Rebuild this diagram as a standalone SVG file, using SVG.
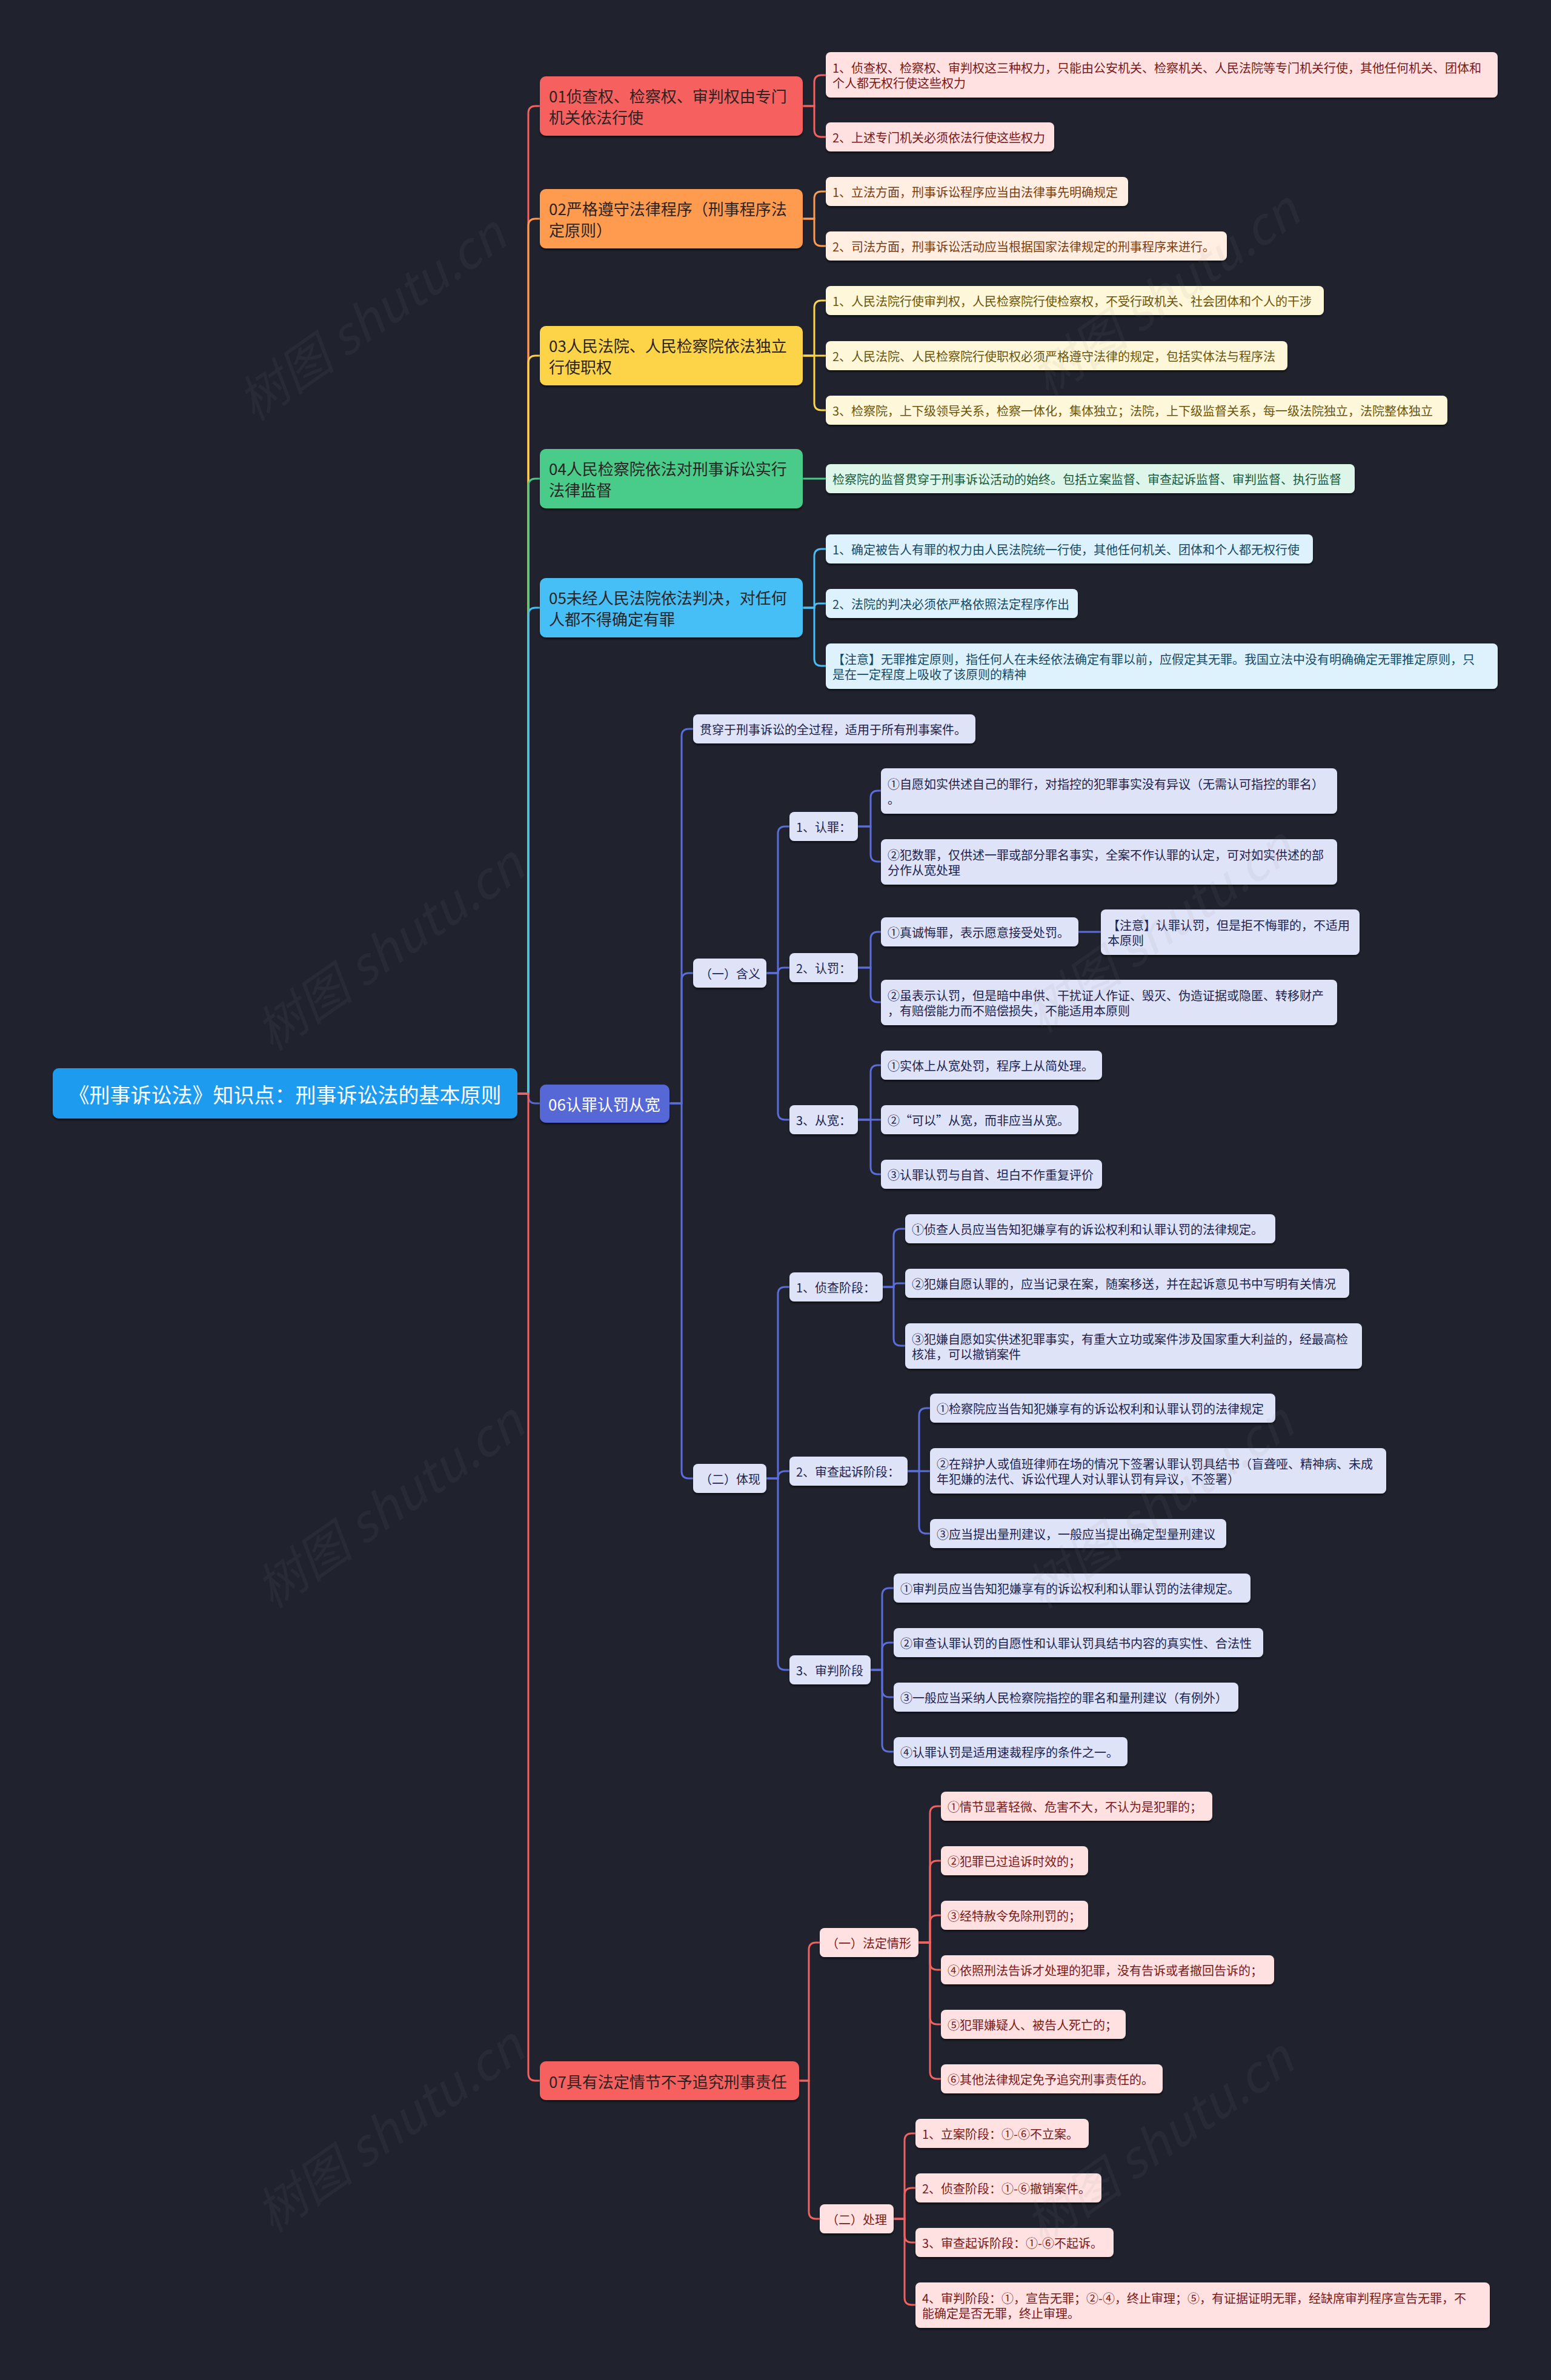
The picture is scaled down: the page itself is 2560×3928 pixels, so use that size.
<svg xmlns="http://www.w3.org/2000/svg" width="2560" height="3928" viewBox="0 0 2560 3928">
<defs>
<filter id="sh" x="-5%" y="-20%" width="110%" height="150%">
<feDropShadow dx="0" dy="3" stdDeviation="1.5" flood-color="#000" flood-opacity="0.5"/>
</filter>
<style>
text{font-family:"Noto Sans CJK SC","Noto Sans",sans-serif;dominant-baseline:central}
.ln{fill:none;stroke-width:3;stroke-linecap:round}
.nd{filter:url(#sh)}
.root rect{fill:#1c9bef}
.root text{fill:#fff;font-size:34px;text-anchor:middle}
.br text{font-size:26px;fill:#2b2424}
.lf text{font-size:20px}
.red rect{fill:#f6605f}
.ora rect{fill:#ff9b50}
.yel rect{fill:#fdd447}
.grn rect{fill:#4acc89}
.blu rect{fill:#45bff5}
.ind rect{fill:#5568d5}
.ind text{fill:#fff}
.lred rect{fill:#ffe1e1}.lred text{fill:#7a1a1a}
.lora rect{fill:#ffeee1}.lora text{fill:#7a3d12}
.lyel rect{fill:#fff7da}.lyel text{fill:#6a560c}
.lgrn rect{fill:#ddf6e9}.lgrn text{fill:#1b5a3a}
.lblu rect{fill:#ddf2fd}.lblu text{fill:#174a66}
.lind rect{fill:#dfe3f7}.lind text{fill:#1d2450}
.wm text{font-size:82px;fill:#8c8c8c;opacity:0.08;font-style:italic;text-anchor:middle}
</style>
</defs>
<rect x="0" y="0" width="2560" height="3928" fill="#20232e"/>

<g id="connectors">
<g class="ln" stroke="#f6605f"><path d="M854 1805 H872 V187 Q872 175 884 175 H891"/></g>
<g class="ln" stroke="#ff9b50"><path d="M854 1805 H872 V373 Q872 361 884 361 H891"/></g>
<g class="ln" stroke="#fdd447"><path d="M854 1805 H872 V599 Q872 587 884 587 H891"/></g>
<g class="ln" stroke="#4acc89"><path d="M854 1805 H872 V802 Q872 790 884 790 H891"/></g>
<g class="ln" stroke="#45bff5"><path d="M854 1805 H872 V1015 Q872 1003 884 1003 H891"/></g>
<g class="ln" stroke="#5568d5"><path d="M854 1805 H872 V1809 Q872 1821 884 1821 H891"/></g>
<g class="ln" stroke="#f6605f"><path d="M854 1805 H872 V3422 Q872 3434 884 3434 H891"/></g>

<g class="ln" stroke="#f6605f">
<path d="M1325 175 H1344 V136 Q1344 124 1356 124 H1363"/>
<path d="M1325 175 H1344 V214 Q1344 226 1356 226 H1363"/>
</g>
<g class="ln" stroke="#ff9b50">
<path d="M1325 361 H1344 V328 Q1344 316 1356 316 H1363"/>
<path d="M1325 361 H1344 V394 Q1344 406 1356 406 H1363"/>
</g>
<g class="ln" stroke="#fdd447">
<path d="M1325 587 H1344 V508 Q1344 496 1356 496 H1363"/>
<path d="M1325 587 H1363"/>
<path d="M1325 587 H1344 V665 Q1344 677 1356 677 H1363"/>
</g>
<g class="ln" stroke="#4acc89">
<path d="M1325 790 H1363"/>
</g>
<g class="ln" stroke="#45bff5">
<path d="M1325 1003 H1344 V918 Q1344 906 1356 906 H1363"/>
<path d="M1325 1003 H1344 Q1344 996 1351 996 H1363"/>
<path d="M1325 1003 H1344 V1087 Q1344 1099 1356 1099 H1363"/>
</g>

<g class="ln" stroke="#5a6dd8">
<path d="M1105 1821 H1125 V1215 Q1125 1203 1137 1203 H1144"/>
<path d="M1105 1821 H1125 V1618 Q1125 1606 1137 1606 H1144"/>
<path d="M1105 1821 H1125 V2428 Q1125 2440 1137 2440 H1144"/>
<path d="M1265 1606 H1284 V1376 Q1284 1364 1296 1364 H1303"/>
<path d="M1265 1606 H1284 Q1284 1597 1293 1597 H1303"/>
<path d="M1265 1606 H1284 V1836 Q1284 1848 1296 1848 H1303"/>
<path d="M1416 1364 H1437 V1317 Q1437 1305 1449 1305 H1454"/>
<path d="M1416 1364 H1437 V1410 Q1437 1422 1449 1422 H1454"/>
<path d="M1416 1597 H1437 V1550 Q1437 1538 1449 1538 H1454"/>
<path d="M1416 1597 H1437 V1642 Q1437 1654 1449 1654 H1454"/>
<path d="M1780 1538 H1817"/>
<path d="M1416 1848 H1437 V1770 Q1437 1758 1449 1758 H1454"/>
<path d="M1416 1848 H1454"/>
<path d="M1416 1848 H1437 V1926 Q1437 1938 1449 1938 H1454"/>
<path d="M1265 2440 H1284 V2136 Q1284 2124 1296 2124 H1303"/>
<path d="M1265 2440 H1284 Q1284 2428 1296 2428 H1303"/>
<path d="M1265 2440 H1284 V2744 Q1284 2756 1296 2756 H1303"/>
<path d="M1457 2124 H1475 V2040 Q1475 2028 1487 2028 H1494"/>
<path d="M1457 2124 H1475 Q1475 2118 1481 2118 H1494"/>
<path d="M1457 2124 H1475 V2209 Q1475 2221 1487 2221 H1494"/>
<path d="M1498 2428 H1517 V2336 Q1517 2324 1529 2324 H1535"/>
<path d="M1498 2428 H1535"/>
<path d="M1498 2428 H1517 V2519 Q1517 2531 1529 2531 H1535"/>
<path d="M1437 2756 H1456 V2633 Q1456 2621 1468 2621 H1475"/>
<path d="M1437 2756 H1456 V2723 Q1456 2711 1468 2711 H1475"/>
<path d="M1437 2756 H1456 V2789 Q1456 2801 1468 2801 H1475"/>
<path d="M1437 2756 H1456 V2879 Q1456 2891 1468 2891 H1475"/>
</g>

<g class="ln" stroke="#ee6362">
<path d="M1319 3434 H1335 V3218 Q1335 3206 1347 3206 H1353"/>
<path d="M1319 3434 H1335 V3650 Q1335 3662 1347 3662 H1353"/>
<path d="M1516 3206 H1535 V2993 Q1535 2981 1547 2981 H1553"/>
<path d="M1516 3206 H1535 V3083 Q1535 3071 1547 3071 H1553"/>
<path d="M1516 3206 H1535 V3173 Q1535 3161 1547 3161 H1553"/>
<path d="M1516 3206 H1535 V3239 Q1535 3251 1547 3251 H1553"/>
<path d="M1516 3206 H1535 V3329 Q1535 3341 1547 3341 H1553"/>
<path d="M1516 3206 H1535 V3419 Q1535 3431 1547 3431 H1553"/>
<path d="M1475 3662 H1493 V3533 Q1493 3521 1505 3521 H1511"/>
<path d="M1475 3662 H1493 V3623 Q1493 3611 1505 3611 H1511"/>
<path d="M1475 3662 H1493 V3689 Q1493 3701 1505 3701 H1511"/>
<path d="M1475 3662 H1493 V3792 Q1493 3804 1505 3804 H1511"/>
</g>
</g>

<g id="n-root" class="root"><rect class="nd" x="87" y="1763" width="767" height="83" rx="10"/><text x="470.5" y="1805">《刑事诉讼法》知识点：刑事诉讼法的基本原则</text></g>

<g id="n-01" class="br red"><rect class="nd" x="891" y="126" width="434" height="98" rx="10"/><text x="906" y="157.5">01侦查权、检察权、审判权由专门</text><text x="906" y="192.5">机关依法行使</text></g>
<g id="n-02" class="br ora"><rect class="nd" x="891" y="312" width="434" height="98" rx="10"/><text x="906" y="343.5">02严格遵守法律程序（刑事程序法</text><text x="906" y="378.5">定原则）</text></g>
<g id="n-03" class="br yel"><rect class="nd" x="891" y="538" width="434" height="98" rx="10"/><text x="906" y="569.5">03人民法院、人民检察院依法独立</text><text x="906" y="604.5">行使职权</text></g>
<g id="n-04" class="br grn"><rect class="nd" x="891" y="741" width="434" height="98" rx="10"/><text x="906" y="772.5">04人民检察院依法对刑事诉讼实行</text><text x="906" y="807.5">法律监督</text></g>
<g id="n-05" class="br blu"><rect class="nd" x="891" y="954" width="434" height="98" rx="10"/><text x="906" y="985.5">05未经人民法院依法判决，对任何</text><text x="906" y="1020.5">人都不得确定有罪</text></g>
<g id="n-06" class="br ind"><rect class="nd" x="891" y="1790" width="214" height="63" rx="10"/><text x="905" y="1821.5">06认罪认罚从宽</text></g>
<g id="n-07" class="br red"><rect class="nd" x="891" y="3402" width="428" height="64" rx="10"/><text x="906" y="3434">07具有法定情节不予追究刑事责任</text></g>

<g id="n-01-1" class="lf lred"><rect class="nd" x="1363" y="86" width="1109" height="75" rx="8"/><text x="1374" y="111">1、侦查权、检察权、审判权这三种权力，只能由公安机关、检察机关、人民法院等专门机关行使，其他任何机关、团体和</text><text x="1374" y="136">个人都无权行使这些权力</text></g>
<g id="n-01-2" class="lf lred"><rect class="nd" x="1363" y="202" width="377" height="48" rx="8"/><text x="1374" y="226">2、上述专门机关必须依法行使这些权力</text></g>
<g id="n-02-1" class="lf lora"><rect class="nd" x="1363" y="292" width="499" height="48" rx="8"/><text x="1374" y="316">1、立法方面，刑事诉讼程序应当由法律事先明确规定</text></g>
<g id="n-02-2" class="lf lora"><rect class="nd" x="1363" y="382" width="662" height="48" rx="8"/><text x="1374" y="406">2、司法方面，刑事诉讼活动应当根据国家法律规定的刑事程序来进行。</text></g>
<g id="n-03-1" class="lf lyel"><rect class="nd" x="1363" y="472" width="822" height="48" rx="8"/><text x="1374" y="496">1、人民法院行使审判权，人民检察院行使检察权，不受行政机关、社会团体和个人的干涉</text></g>
<g id="n-03-2" class="lf lyel"><rect class="nd" x="1363" y="563" width="762" height="48" rx="8"/><text x="1374" y="587">2、人民法院、人民检察院行使职权必须严格遵守法律的规定，包括实体法与程序法</text></g>
<g id="n-03-3" class="lf lyel"><rect class="nd" x="1363" y="653" width="1026" height="48" rx="8"/><text x="1374" y="677">3、检察院，上下级领导关系，检察一体化，集体独立；法院，上下级监督关系，每一级法院独立，法院整体独立</text></g>
<g id="n-04-1" class="lf lgrn"><rect class="nd" x="1363" y="766" width="873" height="48" rx="8"/><text x="1374" y="790">检察院的监督贯穿于刑事诉讼活动的始终。包括立案监督、审查起诉监督、审判监督、执行监督</text></g>
<g id="n-05-1" class="lf lblu"><rect class="nd" x="1363" y="882" width="804" height="48" rx="8"/><text x="1374" y="906">1、确定被告人有罪的权力由人民法院统一行使，其他任何机关、团体和个人都无权行使</text></g>
<g id="n-05-2" class="lf lblu"><rect class="nd" x="1363" y="972" width="416" height="48" rx="8"/><text x="1374" y="996">2、法院的判决必须依严格依照法定程序作出</text></g>
<g id="n-05-3" class="lf lblu"><rect class="nd" x="1363" y="1062" width="1109" height="75" rx="8"/><text x="1374" y="1087">【注意】无罪推定原则，指任何人在未经依法确定有罪以前，应假定其无罪。我国立法中没有明确确定无罪推定原则，只</text><text x="1374" y="1112">是在一定程度上吸收了该原则的精神</text></g>

<g id="n-06-a" class="lf lind"><rect class="nd" x="1144" y="1179" width="466" height="48" rx="8"/><text x="1155" y="1203">贯穿于刑事诉讼的全过程，适用于所有刑事案件。</text></g>
<g id="n-06-b" class="lf lind"><rect class="nd" x="1144" y="1582" width="121" height="48" rx="8"/><text x="1155" y="1606">（一）含义</text></g>
<g id="n-06-c" class="lf lind"><rect class="nd" x="1144" y="2416" width="121" height="48" rx="8"/><text x="1155" y="2440">（二）体现</text></g>
<g id="n-06-b1" class="lf lind"><rect class="nd" x="1303" y="1340" width="113" height="48" rx="8"/><text x="1314" y="1364">1、认罪：</text></g>
<g id="n-06-b2" class="lf lind"><rect class="nd" x="1303" y="1573" width="113" height="48" rx="8"/><text x="1314" y="1597">2、认罚：</text></g>
<g id="n-06-b3" class="lf lind"><rect class="nd" x="1303" y="1824" width="113" height="48" rx="8"/><text x="1314" y="1848">3、从宽：</text></g>
<g id="n-06-b1-1" class="lf lind"><rect class="nd" x="1454" y="1268" width="753" height="75" rx="8"/><text x="1465" y="1293">①自愿如实供述自己的罪行，对指控的犯罪事实没有异议（无需认可指控的罪名）</text><text x="1465" y="1318">。</text></g>
<g id="n-06-b1-2" class="lf lind"><rect class="nd" x="1454" y="1385" width="753" height="75" rx="8"/><text x="1465" y="1410">②犯数罪，仅供述一罪或部分罪名事实，全案不作认罪的认定，可对如实供述的部</text><text x="1465" y="1435">分作从宽处理</text></g>
<g id="n-06-b2-1" class="lf lind"><rect class="nd" x="1454" y="1514" width="326" height="48" rx="8"/><text x="1465" y="1538">①真诚悔罪，表示愿意接受处罚。</text></g>
<g id="n-06-b2-1a" class="lf lind"><rect class="nd" x="1817" y="1501" width="427" height="75" rx="8"/><text x="1828" y="1526">【注意】认罪认罚，但是拒不悔罪的，不适用</text><text x="1828" y="1551">本原则</text></g>
<g id="n-06-b2-2" class="lf lind"><rect class="nd" x="1454" y="1617" width="753" height="75" rx="8"/><text x="1465" y="1642">②虽表示认罚，但是暗中串供、干扰证人作证、毁灭、伪造证据或隐匿、转移财产</text><text x="1465" y="1667">，有赔偿能力而不赔偿损失，不能适用本原则</text></g>
<g id="n-06-b3-1" class="lf lind"><rect class="nd" x="1454" y="1734" width="365" height="48" rx="8"/><text x="1465" y="1758">①实体上从宽处罚，程序上从简处理。</text></g>
<g id="n-06-b3-2" class="lf lind"><rect class="nd" x="1454" y="1824" width="326" height="48" rx="8"/><text x="1465" y="1848">②“可以”从宽，而非应当从宽。</text></g>
<g id="n-06-b3-3" class="lf lind"><rect class="nd" x="1454" y="1914" width="365" height="48" rx="8"/><text x="1465" y="1938">③认罪认罚与自首、坦白不作重复评价</text></g>
<g id="n-06-c1" class="lf lind"><rect class="nd" x="1303" y="2100" width="154" height="48" rx="8"/><text x="1314" y="2124">1、侦查阶段：</text></g>
<g id="n-06-c2" class="lf lind"><rect class="nd" x="1303" y="2404" width="195" height="48" rx="8"/><text x="1314" y="2428">2、审查起诉阶段：</text></g>
<g id="n-06-c3" class="lf lind"><rect class="nd" x="1303" y="2732" width="134" height="48" rx="8"/><text x="1314" y="2756">3、审判阶段</text></g>
<g id="n-06-c1-1" class="lf lind"><rect class="nd" x="1494" y="2004" width="611" height="48" rx="8"/><text x="1505" y="2028">①侦查人员应当告知犯嫌享有的诉讼权利和认罪认罚的法律规定。</text></g>
<g id="n-06-c1-2" class="lf lind"><rect class="nd" x="1494" y="2094" width="733" height="48" rx="8"/><text x="1505" y="2118">②犯嫌自愿认罪的，应当记录在案，随案移送，并在起诉意见书中写明有关情况</text></g>
<g id="n-06-c1-3" class="lf lind"><rect class="nd" x="1494" y="2184" width="754" height="75" rx="8"/><text x="1505" y="2209">③犯嫌自愿如实供述犯罪事实，有重大立功或案件涉及国家重大利益的，经最高检</text><text x="1505" y="2234">核准，可以撤销案件</text></g>
<g id="n-06-c2-1" class="lf lind"><rect class="nd" x="1535" y="2300" width="570" height="48" rx="8"/><text x="1546" y="2324">①检察院应当告知犯嫌享有的诉讼权利和认罪认罚的法律规定</text></g>
<g id="n-06-c2-2" class="lf lind"><rect class="nd" x="1535" y="2390" width="753" height="75" rx="8"/><text x="1546" y="2415">②在辩护人或值班律师在场的情况下签署认罪认罚具结书（盲聋哑、精神病、未成</text><text x="1546" y="2440">年犯嫌的法代、诉讼代理人对认罪认罚有异议，不签署）</text></g>
<g id="n-06-c2-3" class="lf lind"><rect class="nd" x="1535" y="2507" width="489" height="48" rx="8"/><text x="1546" y="2531">③应当提出量刑建议，一般应当提出确定型量刑建议</text></g>
<g id="n-06-c3-1" class="lf lind"><rect class="nd" x="1475" y="2597" width="589" height="48" rx="8"/><text x="1486" y="2621">①审判员应当告知犯嫌享有的诉讼权利和认罪认罚的法律规定。</text></g>
<g id="n-06-c3-2" class="lf lind"><rect class="nd" x="1475" y="2687" width="610" height="48" rx="8"/><text x="1486" y="2711">②审查认罪认罚的自愿性和认罪认罚具结书内容的真实性、合法性</text></g>
<g id="n-06-c3-3" class="lf lind"><rect class="nd" x="1475" y="2777" width="569" height="48" rx="8"/><text x="1486" y="2801">③一般应当采纳人民检察院指控的罪名和量刑建议（有例外）</text></g>
<g id="n-06-c3-4" class="lf lind"><rect class="nd" x="1475" y="2867" width="386" height="48" rx="8"/><text x="1486" y="2891">④认罪认罚是适用速裁程序的条件之一。</text></g>

<g id="n-07-a" class="lf lred"><rect class="nd" x="1353" y="3182" width="163" height="48" rx="8"/><text x="1364" y="3206">（一）法定情形</text></g>
<g id="n-07-b" class="lf lred"><rect class="nd" x="1353" y="3638" width="122" height="48" rx="8"/><text x="1364" y="3662">（二）处理</text></g>
<g id="n-07-a1" class="lf lred"><rect class="nd" x="1553" y="2957" width="448" height="48" rx="8"/><text x="1564" y="2981">①情节显著轻微、危害不大，不认为是犯罪的；</text></g>
<g id="n-07-a2" class="lf lred"><rect class="nd" x="1553" y="3047" width="243" height="48" rx="8"/><text x="1564" y="3071">②犯罪已过追诉时效的；</text></g>
<g id="n-07-a3" class="lf lred"><rect class="nd" x="1553" y="3137" width="243" height="48" rx="8"/><text x="1564" y="3161">③经特赦令免除刑罚的；</text></g>
<g id="n-07-a4" class="lf lred"><rect class="nd" x="1553" y="3227" width="550" height="48" rx="8"/><text x="1564" y="3251">④依照刑法告诉才处理的犯罪，没有告诉或者撤回告诉的；</text></g>
<g id="n-07-a5" class="lf lred"><rect class="nd" x="1553" y="3317" width="305" height="48" rx="8"/><text x="1564" y="3341">⑤犯罪嫌疑人、被告人死亡的；</text></g>
<g id="n-07-a6" class="lf lred"><rect class="nd" x="1553" y="3407" width="366" height="48" rx="8"/><text x="1564" y="3431">⑥其他法律规定免予追究刑事责任的。</text></g>
<g id="n-07-b1" class="lf lred"><rect class="nd" x="1511" y="3497" width="286" height="48" rx="8"/><text x="1522" y="3521">1、立案阶段：①-⑥不立案。</text></g>
<g id="n-07-b2" class="lf lred"><rect class="nd" x="1511" y="3587" width="307" height="48" rx="8"/><text x="1522" y="3611">2、侦查阶段：①-⑥撤销案件。</text></g>
<g id="n-07-b3" class="lf lred"><rect class="nd" x="1511" y="3677" width="327" height="48" rx="8"/><text x="1522" y="3701">3、审查起诉阶段：①-⑥不起诉。</text></g>
<g id="n-07-b4" class="lf lred"><rect class="nd" x="1511" y="3767" width="948" height="75" rx="8"/><text x="1522" y="3792">4、审判阶段：①，宣告无罪；②-④，终止审理；⑤，有证据证明无罪，经缺席审判程序宣告无罪，不</text><text x="1522" y="3817">能确定是否无罪，终止审理。</text></g>

<g id="watermark" class="wm">
<text transform="translate(610,520) rotate(-35)">树图 shutu.cn</text>
<text transform="translate(1920,480) rotate(-35)">树图 shutu.cn</text>
<text transform="translate(640,1560) rotate(-35)">树图 shutu.cn</text>
<text transform="translate(1910,1530) rotate(-35)">树图 shutu.cn</text>
<text transform="translate(640,2480) rotate(-35)">树图 shutu.cn</text>
<text transform="translate(1910,2480) rotate(-35)">树图 shutu.cn</text>
<text transform="translate(640,3510) rotate(-35)">树图 shutu.cn</text>
<text transform="translate(1910,3530) rotate(-35)">树图 shutu.cn</text>
</g>
</svg>
